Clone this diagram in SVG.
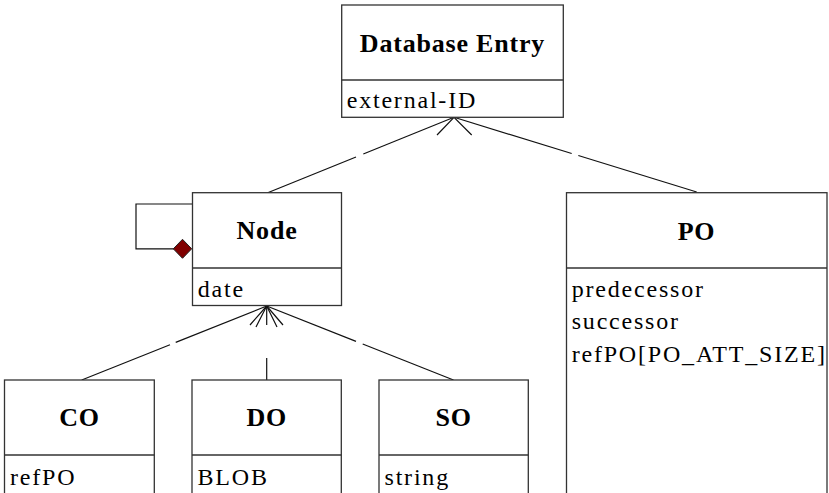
<svg xmlns="http://www.w3.org/2000/svg" width="829" height="493" viewBox="0 0 829 493">
<style>
.box{fill:#fff;stroke:#333;stroke-width:1.3}
.div{stroke:#333;stroke-width:1.3}
.t{font-family:"Liberation Serif","Times New Roman",serif;font-weight:bold;font-size:26px;letter-spacing:0.8px;text-anchor:middle;fill:#000}
.a{font-family:"Liberation Serif","Times New Roman",serif;font-size:24px;letter-spacing:1.8px;fill:#000}
.c{stroke:#111;stroke-width:1.2;fill:none}
</style>
<rect width="829" height="493" fill="#fff"/>
<g id="connectors">
<line class="c" x1="267.7" y1="192.7" x2="356" y2="157"/>
<line class="c" x1="363.3" y1="154" x2="454" y2="117.3"/>
<line class="c" x1="454" y1="117.3" x2="571.7" y2="153.5"/>
<line class="c" x1="578.3" y1="155.5" x2="696.7" y2="192"/>
<polyline class="c" points="437,135 454,117.3 471.7,135"/>
<line class="c" x1="266.7" y1="306" x2="175.7" y2="342.4"/>
<line class="c" x1="170" y1="344.7" x2="81.7" y2="380"/>
<line class="c" x1="266.7" y1="306" x2="266.7" y2="325"/>
<line class="c" x1="266.7" y1="358" x2="266.7" y2="380"/>
<line class="c" x1="266.7" y1="306" x2="356" y2="341.4"/>
<line class="c" x1="362.7" y1="344" x2="453.5" y2="380"/>
<polyline class="c" points="250,325 266.7,306 283,325"/>
<polyline class="c" points="256,327 266.7,306 277,327"/>
<polyline class="c" points="192,204 136,204 136,248.8 174,248.8"/>
<polygon points="173.3,248.8 182.5,239.3 191.7,248.8 182.5,258.3" fill="#800000" stroke="#222" stroke-width="1"/>
</g>
<g id="database-entry">
<rect class="box" x="341.7" y="5" width="221.6" height="112.3"/>
<line class="div" x1="341.7" y1="80" x2="563.3" y2="80"/>
<text class="t" x="452.5" y="52">Database Entry</text>
<text class="a" x="346.7" y="108.3">external-ID</text>
</g>
<g id="node">
<rect class="box" x="192.5" y="192.7" width="149" height="112.8"/>
<line class="div" x1="192.5" y1="268" x2="341.5" y2="268"/>
<text class="t" x="267" y="239">Node</text>
<text class="a" x="197.7" y="296.7">date</text>
</g>
<g id="po">
<rect class="box" x="566.5" y="192.7" width="260.5" height="320"/>
<line class="div" x1="566.5" y1="268" x2="827" y2="268"/>
<text class="t" x="696.5" y="240">PO</text>
<text class="a" x="571.7" y="297">predecessor</text>
<text class="a" x="571.7" y="329">successor</text>
<text class="a" x="571.7" y="362">refPO[PO_ATT_SIZE]</text>
</g>
<g id="co">
<rect class="box" x="4.5" y="380" width="149.8" height="130"/>
<line class="div" x1="4.5" y1="455" x2="154.3" y2="455"/>
<text class="t" x="79.5" y="425.7">CO</text>
<text class="a" x="10" y="485">refPO</text>
</g>
<g id="do">
<rect class="box" x="192" y="380" width="149.3" height="130"/>
<line class="div" x1="192" y1="455" x2="341.3" y2="455"/>
<text class="t" x="266.7" y="425.7">DO</text>
<text class="a" x="197.5" y="485">BLOB</text>
</g>
<g id="so">
<rect class="box" x="379" y="380" width="149.3" height="130"/>
<line class="div" x1="379" y1="455" x2="528.3" y2="455"/>
<text class="t" x="453.7" y="425.7">SO</text>
<text class="a" x="384.5" y="485">string</text>
</g>
</svg>
